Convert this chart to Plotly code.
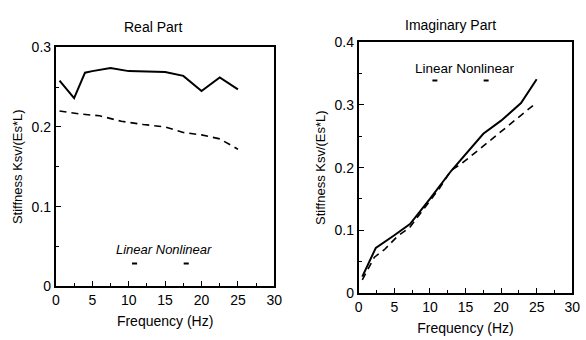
import plotly.graph_objects as go

# Real part
real_freq_lin = [0.5, 2.5, 4.0, 5.0, 7.5, 10.0, 15.0, 17.5, 20.0, 22.5, 25.0]
real_lin = [0.258, 0.236, 0.268, 0.270, 0.274, 0.270, 0.269, 0.264, 0.245, 0.262, 0.247]
real_freq_non = [0.5, 3.5, 6.0, 9.0, 12.0, 15.0, 17.5, 20.0, 22.5, 25.0]
real_non = [0.220, 0.216, 0.214, 0.207, 0.203, 0.200, 0.193, 0.190, 0.185, 0.172]

# Imaginary part
imag_freq_lin = [0.5, 2.4, 5.0, 7.2, 10.0, 13.0, 17.5, 20.0, 22.8, 25.0]
imag_lin = [0.026, 0.072, 0.092, 0.110, 0.150, 0.195, 0.254, 0.275, 0.303, 0.341]
imag_freq_non = [0.5, 2.2, 3.6, 5.4, 7.2, 9.8, 11.4, 13.0, 14.4, 18.0, 22.0, 25.0]
imag_non = [0.021, 0.057, 0.069, 0.090, 0.105, 0.143, 0.168, 0.196, 0.206, 0.239, 0.277, 0.304]

titles = ["Real Part", "Imaginary Part"]
y_title = "Stiffness Ksv/(Es*L)"
x_title = "Frequency (Hz)"

FONT = "Liberation Sans, Arial, sans-serif"

fig = go.Figure()
solid = dict(color="black", width=2)
dashed = dict(color="black", width=1.6, dash="7px,5px")

fig.add_trace(go.Scatter(x=real_freq_lin, y=real_lin, mode="lines", line=solid, xaxis="x", yaxis="y", showlegend=False))
fig.add_trace(go.Scatter(x=real_freq_non, y=real_non, mode="lines", line=dashed, xaxis="x", yaxis="y", showlegend=False))
fig.add_trace(go.Scatter(x=imag_freq_lin, y=imag_lin, mode="lines", line=solid, xaxis="x2", yaxis="y2", showlegend=False))
fig.add_trace(go.Scatter(x=imag_freq_non, y=imag_non, mode="lines", line=dashed, xaxis="x2", yaxis="y2", showlegend=False))

common_x = dict(
    range=[0, 30], tick0=0, dtick=5, ticks="inside", ticklen=5, tickwidth=1.2, tickcolor="black",
    showline=True, linecolor="black", linewidth=2, mirror=True, showgrid=False, zeroline=False,
    tickfont=dict(size=14, color="black", family=FONT),
    minor=dict(dtick=2.5, tick0=0, ticks="inside", ticklen=3, tickwidth=1, tickcolor="black", showgrid=False),
    title=dict(text=x_title, font=dict(size=14, color="black", family=FONT), standoff=9),
)
common_y = dict(
    tick0=0, dtick=0.1, ticks="inside", ticklen=5, tickwidth=1.2, tickcolor="black",
    showline=True, linecolor="black", linewidth=2, mirror=True, showgrid=False, zeroline=False,
    tickfont=dict(size=14, color="black", family=FONT),
    minor=dict(dtick=0.05, tick0=0, ticks="inside", ticklen=3, tickwidth=1, tickcolor="black", showgrid=False),
    title=dict(text=y_title, font=dict(size=13, color="black", family=FONT), standoff=6),
)

fig.update_layout(
    width=586, height=340,
    margin=dict(l=0, r=0, t=0, b=0),
    paper_bgcolor="white", plot_bgcolor="white",
    font=dict(family=FONT, color="black"),
    xaxis=dict(domain=[0.0904, 0.471], anchor="y", **common_x),
    yaxis=dict(domain=[0.141, 0.879], anchor="x", range=[0, 0.3], **common_y),
    xaxis2=dict(domain=[0.618, 0.990], anchor="y2", **common_x),
    yaxis2=dict(domain=[0.1206, 0.894], anchor="x2", range=[0, 0.4], **common_y),
)

fig.add_annotation(text=titles[0], xref="paper", yref="paper", x=152 / 586, y=1 - 20 / 340,
                   xanchor="center", yanchor="middle",
                   showarrow=False, font=dict(size=14, family=FONT, color="black"))
fig.add_annotation(text=titles[1], xref="paper", yref="paper", x=456 / 586, y=1 - 18 / 340,
                   xanchor="center", yanchor="middle",
                   showarrow=False, font=dict(size=14, family=FONT, color="black"))

# in-plot legends
fig.add_annotation(text="<i>Linear Nonlinear</i>", xref="x", yref="y", x=14.9, y=0.0466,
                   xanchor="center", yanchor="middle",
                   showarrow=False, font=dict(size=13, family=FONT, color="black"))
fig.add_annotation(text="Linear Nonlinear", xref="x2", yref="y2", x=14.9, y=0.359,
                   xanchor="center", yanchor="middle",
                   showarrow=False, font=dict(size=13.5, family=FONT, color="black"))
for xr, yr, xs, yv in [("x", "y", [10.8, 17.9], 0.0285), ("x2", "y2", [10.7, 17.9], 0.339)]:
    for xc in xs:
        fig.add_shape(type="line", xref=xr, yref=yr, x0=xc - 0.35, x1=xc + 0.35, y0=yv, y1=yv,
                      line=dict(color="black", width=2))

fig.write_html("out.html")
